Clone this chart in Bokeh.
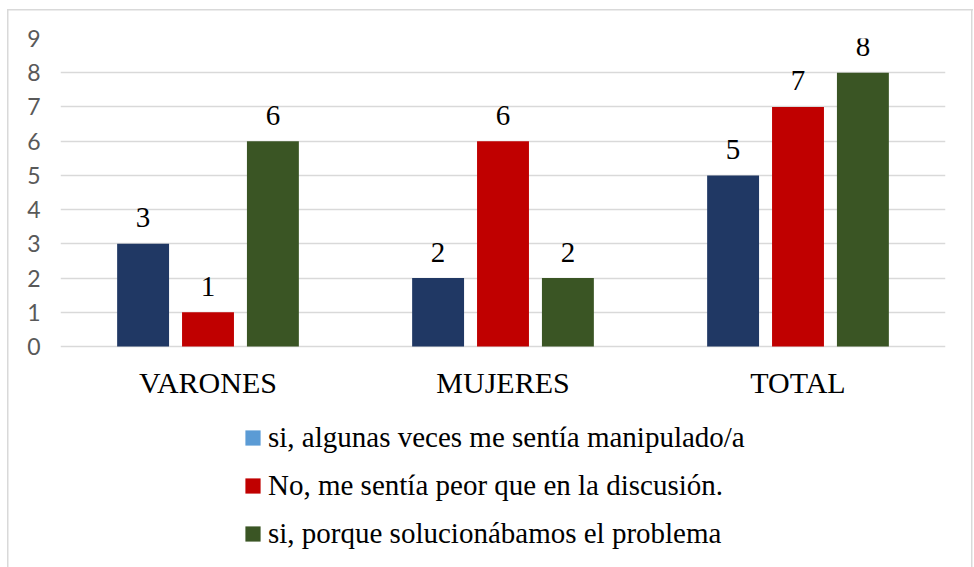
from bokeh.plotting import figure
from bokeh.models import ColumnDataSource, FactorRange, Range1d, Legend, LegendItem, FixedTicker
from bokeh.transform import dodge
from bokeh.core.properties import value
from bokeh.embed import file_html
from bokeh.resources import INLINE

# ---- data ----
categories = ["VARONES", "MUJERES", "TOTAL"]
series_names = [
    "si, algunas veces me sentía manipulado/a",
    "No, me sentía peor que en la discusión.",
    "si, porque solucionábamos el problema",
]
manipulado = [3, 2, 5]
peor = [1, 6, 7]
soluciona = [6, 2, 8]
y_ticks = [0, 1, 2, 3, 4, 5, 6, 7, 8, 9]

bar_colors = ["#203864", "#C00000", "#3A5524"]
legend_colors = ["#5B9BD5", "#C00000", "#3A5524"]
offsets = [-0.22, 0.0, 0.22]
SERIF = "Liberation Serif"

src = ColumnDataSource(dict(
    cat=categories,
    base=[0] * len(categories),
    s0=manipulado, s1=peor, s2=soluciona,
    l0=[str(v) for v in manipulado],
    l1=[str(v) for v in peor],
    l2=[str(v) for v in soluciona],
))

# plot frame reaches the bottom of the canvas so the legend can live inside it;
# 0..9 occupies the upper 308 px, the rest (below 0) holds labels and legend
Y_BOTTOM = -9 * 221 / 308

p = figure(
    x_range=FactorRange(*categories, range_padding=0),
    y_range=Range1d(Y_BOTTOM, 9),
    width=974, height=567,
    output_backend="svg", toolbar_location=None,
    min_border_left=60, min_border_right=29,
    min_border_top=38, min_border_bottom=0,
)
p.border_fill_color = None
p.background_fill_color = None
p.outline_line_color = None
p.styles = {
    "background-image": "linear-gradient(#D9D9D9,#D9D9D9), linear-gradient(#D9D9D9,#D9D9D9), linear-gradient(#D9D9D9,#D9D9D9)",
    "background-position": "7px 9px, 7px 9px, 971px 9px",
    "background-size": "1.5px 700px, 966px 1.5px, 1.5px 700px",
    "background-repeat": "no-repeat",
}

for i in range(3):
    x = dodge("cat", offsets[i], range=p.x_range)
    p.vbar(x=x, top="s%d" % i, width=0.176, source=src,
           fill_color=bar_colors[i], line_color=None)
    p.text(x=x, y="s%d" % i, text="l%d" % i, source=src,
           text_font=value(SERIF), text_font_size="29px", text_color="black",
           text_align="center", text_baseline="alphabetic", y_offset=-26)

# category labels under the zero line
p.text(x="cat", y="base", text="cat", source=src,
       text_font=value(SERIF), text_font_size="30px", text_color="black",
       text_align="center", text_baseline="alphabetic", y_offset=36)

# zero-height helper bars that only carry the legend swatch colours
dummies = []
for i in range(3):
    r = p.vbar(x=categories[:1], top=[0], bottom=[0], width=0.01,
               fill_color=legend_colors[i], line_color=None)
    dummies.append(r)

legend = Legend(
    items=[LegendItem(label=series_names[i], renderers=[dummies[i]]) for i in range(3)],
    location=(183, 17), orientation="vertical",
    glyph_width=19, glyph_height=19, label_standoff=6, spacing=15,
    padding=0, margin=0, border_line_color=None, background_fill_alpha=0,
    label_text_font=SERIF, label_text_font_size="29px", label_text_color="black",
)
p.add_layout(legend)

p.xgrid.grid_line_color = None
p.ygrid.grid_line_color = "#D9D9D9"
p.ygrid.grid_line_width = 1.5
p.ygrid.ticker = FixedTicker(ticks=y_ticks)

p.xaxis.visible = False

p.yaxis.ticker = FixedTicker(ticks=y_ticks)
p.yaxis.axis_line_color = None
p.yaxis.major_tick_line_color = None
p.yaxis.minor_tick_line_color = None
p.yaxis.major_label_standoff = 14
p.yaxis.major_label_text_font = "Lato"
p.yaxis.major_label_text_font_size = "23px"
p.yaxis.major_label_text_color = "#595959"

open("out.html", "w").write(file_html(p, INLINE))
